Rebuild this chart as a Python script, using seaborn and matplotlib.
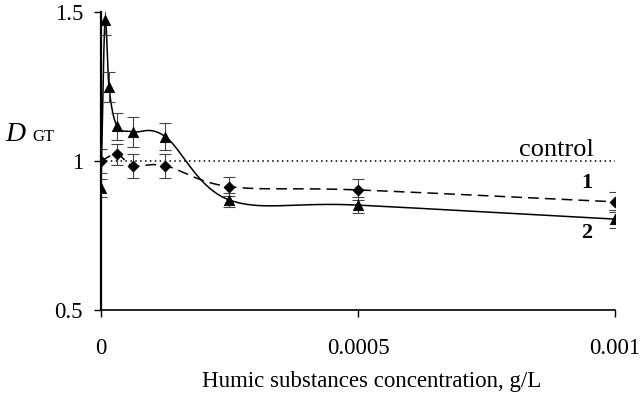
import numpy as np
import pandas as pd
import matplotlib
matplotlib.use("Agg")
import matplotlib.pyplot as plt
import seaborn as sns

# concentration series (g/L), two-fold dilutions
conc = [0, 7.8e-6, 1.5625e-5, 3.125e-5, 6.25e-5, 1.25e-4, 2.5e-4, 5e-4, 1e-3]

# series 1 (diamonds, dashed)
x1 = [0, 3.125e-5, 6.25e-5, 1.25e-4, 2.5e-4, 5e-4, 1e-3]
y1 = [1.00, 1.023, 0.984, 0.984, 0.914, 0.903, 0.863]
e1 = [0.04, 0.035, 0.04, 0.04, 0.032, 0.035, 0.033]

# series 2 (triangles, solid smoothed)
x2 = conc
y2 = [0.908, 1.473, 1.248, 1.117, 1.098, 1.082, 0.869, 0.852, 0.805]
e2 = [0.03, 0.05, 0.05, 0.045, 0.05, 0.045, 0.025, 0.028, 0.03]

control = 1.0


def smooth(xs, ys, n=40):
    # Catmull-Rom path in screen-like units (like spreadsheet smoothed lines)
    sx, sy = 1e-3 / 514, 1.0 / 298
    p = np.column_stack([np.array(xs) / sx, np.array(ys) / sy])
    p = np.vstack([p[0] - (p[1] - p[0]), p, p[-1] + (p[-1] - p[-2])])
    out = []
    for i in range(1, len(p) - 2):
        p0, p1, p2, p3 = p[i - 1], p[i], p[i + 1], p[i + 2]
        t = np.linspace(0, 1, n)[:, None]
        c = 0.5 * ((2 * p1) + (-p0 + p2) * t + (2 * p0 - 5 * p1 + 4 * p2 - p3) * t**2
                   + (-p0 + 3 * p1 - 3 * p2 + p3) * t**3)
        out.append(c)
    c = np.vstack(out)
    return c[:, 0] * sx, c[:, 1] * sy


sns.set_theme(style="white")
plt.rcParams['font.family'] = ['Liberation Serif', 'DejaVu Serif']

fig = plt.figure(figsize=(6.42, 3.94), dpi=100)
ax = fig.add_axes([0.1573, 0.2132, 0.8006, 0.7563])

# smoothed lines
sx2, sy2 = smooth(x2, y2)
sns.lineplot(x=sx2, y=sy2, ax=ax, color='black', lw=1.1, sort=False, estimator=None)
sx1, sy1 = smooth(x1, y1)
sns.lineplot(x=sx1, y=sy1, ax=ax, color='black', lw=1.1, sort=False, estimator=None,
             linestyle=(0, (7, 4)))

# control
ax.plot([0, 1e-3], [control, control], color='black', lw=1.1, linestyle=(0, (1, 2.2)))

# error bars
ax.errorbar(x1, y1, yerr=e1, fmt='none', ecolor='#444444', elinewidth=0.8, capsize=4, capthick=0.8)
ax.errorbar(x2, y2, yerr=e2, fmt='none', ecolor='#444444', elinewidth=0.8, capsize=4, capthick=0.8)

# markers
sns.scatterplot(x=x1, y=y1, ax=ax, marker='D', s=32, color='black', edgecolor='black', zorder=5)
sns.scatterplot(x=x2, y=y2, ax=ax, marker='^', s=55, color='black', edgecolor='black', zorder=5)

ax.set_xlim(0, 1e-3)
ax.set_ylim(0.5, 1.5)
ax.set_xticks([0, 5e-4, 1e-3])
ax.set_xticklabels(['0', '0.0005', '0.001'])
ax.set_yticks([0.5, 1, 1.5])
ax.set_yticklabels(['0.5', '1', '1.5'])

for s in ['top', 'right']:
    ax.spines[s].set_visible(False)
for s in ['left', 'bottom']:
    ax.spines[s].set_color('black')
    ax.spines[s].set_linewidth(1.2)
ax.spines['left'].set_linewidth(1.6)

ax.tick_params(axis='both', direction='out', length=5, width=1, color='black',
               labelsize=16.5, labelcolor='black', left=True, bottom=True)
ax.tick_params(axis='x', pad=15)
ax.tick_params(axis='y', pad=8)

ax.set_xlabel('Humic substances concentration, g/L', fontsize=16.5, labelpad=9,
              color='black', x=0.527)
ax.set_ylabel('')
fig.text(0.008, 0.642, 'D', fontsize=20, style='italic', color='black')
fig.text(0.05, 0.642, 'GT', fontsize=12, color='black')

ax.text(0.000814, 1.017, 'control', fontsize=19, color='black')
ax.text(0.000934, 0.909, '1', fontsize=16, fontweight='bold', color='black')
ax.text(0.000934, 0.742, '2', fontsize=16, fontweight='bold', color='black')

fig.savefig('out.png', dpi=100)
